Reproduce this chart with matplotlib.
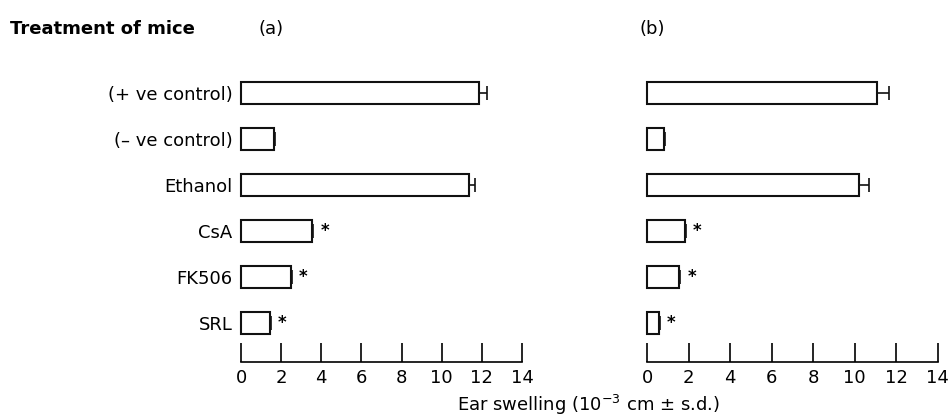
import numpy as np
import matplotlib.pyplot as plt

plt.rcParams["font.family"] = ["DejaVu Sans"]

# Data
treatments = ["(+ ve control)", "(\u2013 ve control)", "Ethanol", "CsA", "FK506", "SRL"]
swelling_a = [11.85, 1.65, 11.35, 3.55, 2.5, 1.45]
sd_a = [0.4, 0.05, 0.3, 0.06, 0.05, 0.05]
swelling_b = [11.1, 0.8, 10.2, 1.8, 1.55, 0.55]
sd_b = [0.55, 0.05, 0.5, 0.06, 0.05, 0.05]
signif = [False, False, False, True, True, True]
xticks = [0, 2, 4, 6, 8, 10, 12, 14]

fs = 13

fig = plt.figure(figsize=(9.49, 4.17), dpi=100)
ax_a = fig.add_axes([0.254, 0.132, 0.296, 0.70])
ax_b = fig.add_axes([0.682, 0.132, 0.306, 0.70])

y = np.arange(len(treatments))

for ax, vals, errs in [(ax_a, swelling_a, sd_a), (ax_b, swelling_b, sd_b)]:
    ax.barh(y, vals, height=0.48, color="white", edgecolor="#111111",
            linewidth=1.5, clip_on=False, zorder=2)
    ax.errorbar(vals, y, xerr=[np.zeros(len(vals)), errs], fmt="none",
                ecolor="#111111", elinewidth=1.2, capsize=5, capthick=1.2,
                clip_on=False, zorder=3)
    for yi, v, e, s in zip(y, vals, errs, signif):
        if s:
            ax.annotate("*", (v + e, yi), xytext=(5, 0), textcoords="offset points",
                        ha="left", va="center", fontsize=12, fontweight="bold")
    ax.set_xlim(0, 14)
    ax.set_ylim(5.85, -0.5)
    ax.set_xticks(xticks)
    ax.tick_params(axis="x", direction="in", length=14, width=1.2,
                   labelsize=fs, pad=5)
    for sp in ["top", "right", "left"]:
        ax.spines[sp].set_visible(False)
    ax.spines["bottom"].set_linewidth(1.2)

ax_a.set_yticks(y)
ax_a.set_yticklabels(treatments, fontsize=fs)
ax_a.tick_params(axis="y", length=0, pad=6)
ax_b.set_yticks([])

fig.text(0.011, 0.93, "Treatment of mice", fontsize=fs, fontweight="bold",
         va="center", ha="left")
fig.text(0.272, 0.93, "(a)", fontsize=fs, va="center", ha="left")
fig.text(0.674, 0.93, "(b)", fontsize=fs, va="center", ha="left")
fig.text(0.62, 0.028, r"Ear swelling (10$^{-3}$ cm $\pm$ s.d.)", fontsize=fs,
         ha="center", va="center")

fig.savefig("out.png", dpi=100)
